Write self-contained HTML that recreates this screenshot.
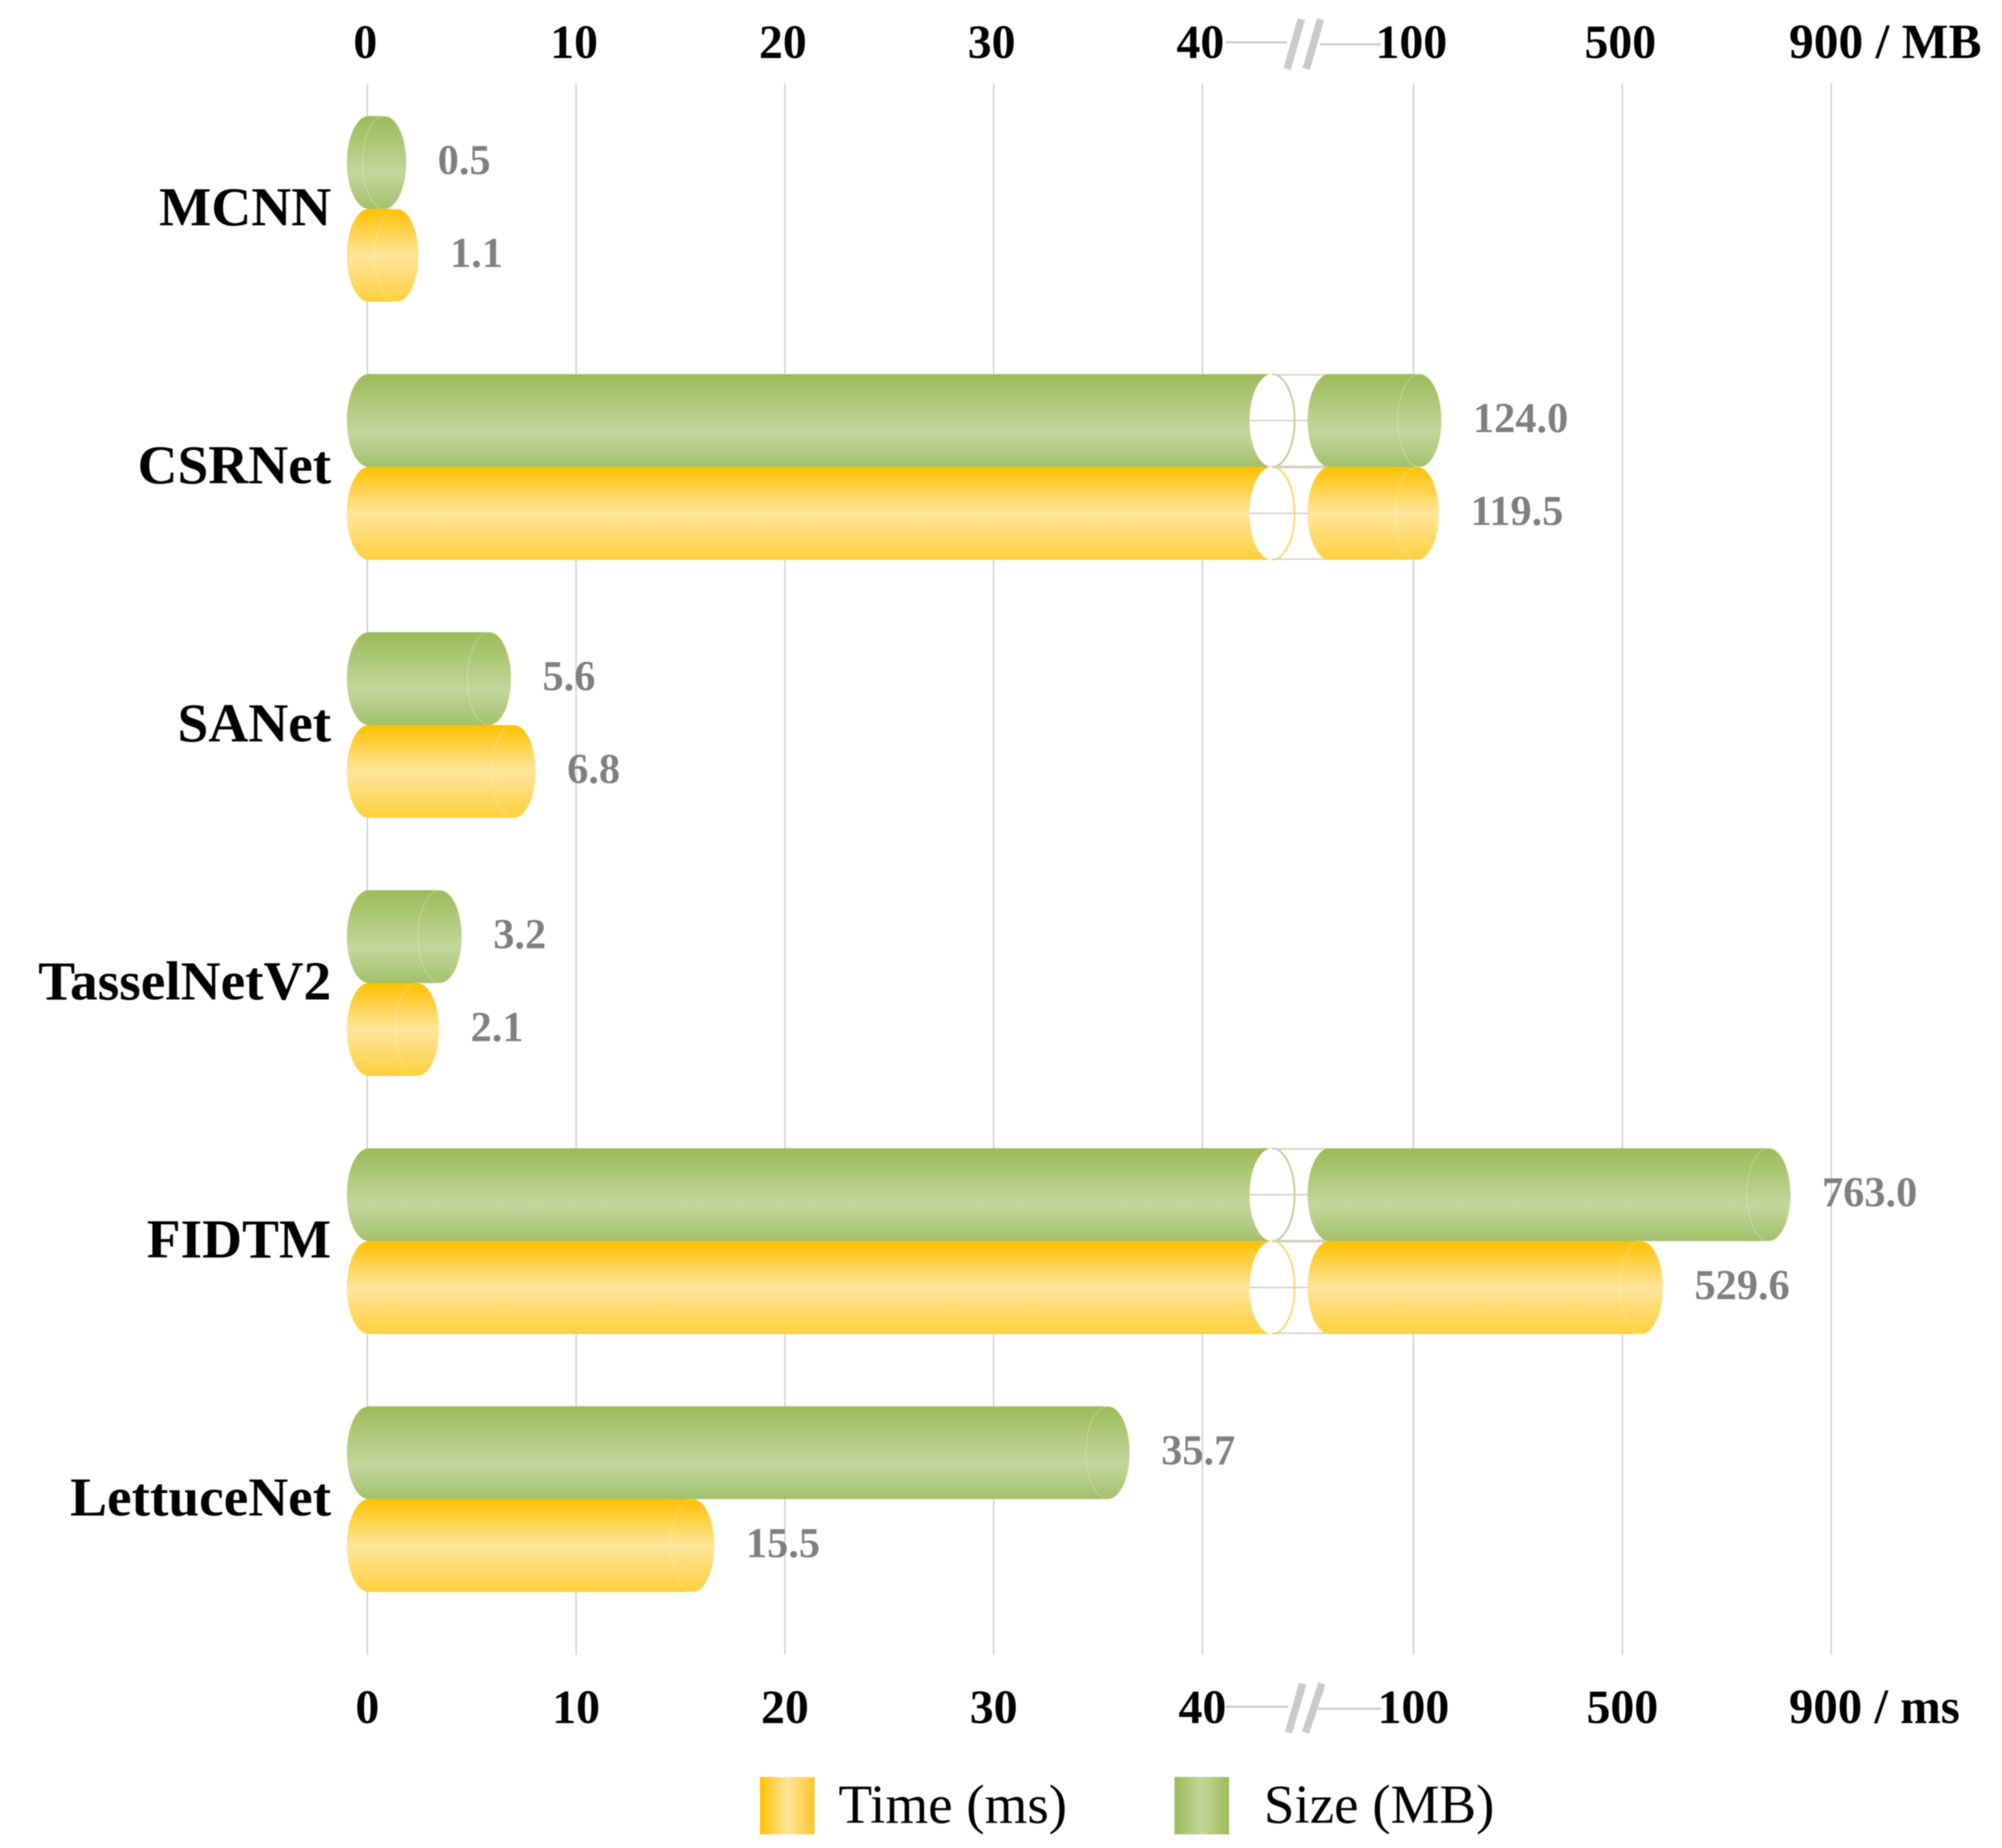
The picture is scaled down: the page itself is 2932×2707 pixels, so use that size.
<!DOCTYPE html>
<html lang="en">
<head>
<meta charset="utf-8">
<title>Model size and inference time</title>
<style>
html,body{margin:0;padding:0;background:#fff;}
svg{display:block;filter:blur(0.8px);}
text{font-family:"Liberation Serif",serif;}
.tick{font-size:70px;font-weight:bold;fill:#000;}
.cat{font-size:81px;font-weight:bold;fill:#000;text-anchor:end;}
.val{font-size:62px;font-weight:bold;fill:#7f7f7f;}
.leg{font-size:80.5px;fill:#000;}
</style>
</head>
<body>
<svg id="chart" xmlns="http://www.w3.org/2000/svg" width="2932" height="2707" viewBox="0 0 2932 2707">
  <defs>
    <linearGradient id="g-size" x1="0" y1="0" x2="0" y2="1">
      <stop offset="0" stop-color="#9bbb59"/>
      <stop offset="0.62" stop-color="#c3d69b"/>
      <stop offset="1" stop-color="#a3c06b"/>
    </linearGradient>
    <linearGradient id="g-time" x1="0" y1="0" x2="0" y2="1">
      <stop offset="0" stop-color="#ffc000"/>
      <stop offset="0.5" stop-color="#fee59b"/>
      <stop offset="1" stop-color="#ffcf3c"/>
    </linearGradient>
    <linearGradient id="g-size-h" x1="0" y1="0" x2="1" y2="0">
      <stop offset="0" stop-color="#9bbb59"/>
      <stop offset="0.5" stop-color="#c3d69b"/>
      <stop offset="1" stop-color="#9bbb59"/>
    </linearGradient>
    <linearGradient id="g-time-h" x1="0" y1="0" x2="1" y2="0">
      <stop offset="0" stop-color="#ffc000"/>
      <stop offset="0.5" stop-color="#fee59b"/>
      <stop offset="1" stop-color="#ffc62a"/>
    </linearGradient>
  </defs>
  <rect width="2932" height="2707" fill="#fff"/>
  <g id="grid"></g>
  <g id="axes"></g>

  <g fill="none" stroke="#cacaca">
    <line x1="1795" y1="62" x2="1885" y2="62" stroke-width="3"/>
    <line x1="1933" y1="65" x2="2022" y2="65" stroke-width="3"/>
    <line x1="1906" y1="28" x2="1885" y2="101" stroke-width="11"/>
    <line x1="1934" y1="28" x2="1913" y2="101" stroke-width="11"/>
  </g>
  <g fill="none" stroke="#cacaca">
    <line x1="1795" y1="2500" x2="1887" y2="2500" stroke-width="3"/>
    <line x1="1930" y1="2503" x2="2023" y2="2503" stroke-width="3"/>
    <line x1="1908" y1="2466" x2="1887" y2="2538" stroke-width="11"/>
    <line x1="1936" y1="2466" x2="1912" y2="2538" stroke-width="11"/>
  </g>

  <g id="bars"></g>

  <g>
    <g>
      <rect x="1113" y="2603" width="80" height="84" fill="url(#g-time-h)"/>
      <text class="leg" x="1228" y="2670">Time (ms)</text>
    </g>
    <g>
      <rect x="1720" y="2603" width="80" height="84" fill="url(#g-size-h)"/>
      <text class="leg" x="1851" y="2670">Size (MB)</text>
    </g>
  </g>
</svg>
<script>
const categories = ["MCNN", "CSRNet", "SANet", "TasselNetV2", "FIDTM", "LettuceNet"];
const sizeValues = [0.5, 124.0, 5.6, 3.2, 763.0, 35.7];
const timeValues = [1.1, 119.5, 6.8, 2.1, 529.6, 15.5];
const tickValues = [0, 10, 20, 30, 40, 100, 500, 900];
const topTickLabels = ["0", "10", "20", "30", "40", "100", "500", "900 / MB"];
const bottomTickLabels = ["0", "10", "20", "30", "40", "100", "500", "900 / ms"];

const NS = "http://www.w3.org/2000/svg";
function make(tag, parent, cls) {
  const el = document.createElementNS(NS, tag);
  if (cls) el.setAttribute("class", cls);
  parent.appendChild(el);
  return el;
}
function xScale(v) {
  if (v <= 40) return 538 + v * (1761 - 538) / 40;
  if (v <= 100) return 1761 + (v - 40) * (2070 - 1761) / 60;
  return 2070 + (v - 100) * (2682 - 2070) / 800;
}
function tipX(v) {
  if (v <= 40) return 580 + 30.1 * v;
  if (v <= 100) return 1784 + (v - 40) * (2092 - 1784) / 60;
  return 2012 + 0.8 * v;
}
const BAND_TOP = 170, BAND_STEP = 378, BAR_H = 136, CAP_RX = 32, BAR_LEFT = 508;
const BREAK_C = 1863, BREAK_RX = 33, RESUME_LEFT = 1915;

function barPath(left, tip, top) {
  const ry = BAR_H / 2, a = left + CAP_RX, b = Math.max(tip - CAP_RX, a), bottom = top + BAR_H;
  return "M" + a + " " + top + "L" + b + " " + top +
    "A" + CAP_RX + " " + ry + " 0 0 1 " + b + " " + bottom +
    "L" + a + " " + bottom +
    "A" + CAP_RX + " " + ry + " 0 0 1 " + a + " " + top + "Z";
}

function drawBar(parent, cat, value, top, grad, edge, seriesName) {
  const tip = tipX(value), ry = BAR_H / 2, mid = top + ry;
  const group = make("g", parent);
  
  

  if (value > 40) {
    const left = make("path", group);
    
    
    left.setAttribute("d", barPath(BAR_LEFT, BREAK_C + CAP_RX, top));
    left.setAttribute("fill", "url(#" + grad + ")");

    const hole = make("ellipse", group);
    
    
    hole.setAttribute("cx", BREAK_C);
    hole.setAttribute("cy", mid);
    hole.setAttribute("rx", BREAK_RX);
    hole.setAttribute("ry", ry);
    hole.setAttribute("fill", "#fff");

    const cover = make("rect", group);
    
    
    cover.setAttribute("x", BREAK_C);
    cover.setAttribute("y", top);
    cover.setAttribute("width", RESUME_LEFT + 10 - BREAK_C);
    cover.setAttribute("height", BAR_H);
    cover.setAttribute("fill", "#fff");

    const rim = make("path", group);
    
    
    rim.setAttribute("d", "M" + BREAK_C + " " + top + "A" + BREAK_RX + " " + ry + " 0 0 1 " + BREAK_C + " " + (top + BAR_H));
    rim.setAttribute("fill", "none");
    rim.setAttribute("stroke", edge);
    rim.setAttribute("stroke-width", "2.5");

    const lineYs = [top + 1, mid, top + BAR_H - 1];
    const lineX1 = [BREAK_C, BREAK_C - BREAK_RX, BREAK_C];
    const lineX2 = [RESUME_LEFT + CAP_RX, RESUME_LEFT, RESUME_LEFT + CAP_RX];
    for (let k = 0; k < 3; k++) {
      const l = make("line", group);
      
      
      l.setAttribute("x1", lineX1[k]);
      l.setAttribute("x2", lineX2[k]);
      l.setAttribute("y1", lineYs[k]);
      l.setAttribute("y2", lineYs[k]);
      l.setAttribute("stroke", "#cfcfc4");
      l.setAttribute("stroke-width", "2");
    }

    const right = make("path", group);
    
    
    right.setAttribute("d", barPath(RESUME_LEFT, tip, top));
    right.setAttribute("fill", "url(#" + grad + ")");
  } else {
    const body = make("path", group);
    
    
    body.setAttribute("d", barPath(BAR_LEFT, tip, top));
    body.setAttribute("fill", "url(#" + grad + ")");
  }

  const cap = make("ellipse", group);
  
  
  cap.setAttribute("cx", tip - CAP_RX);
  cap.setAttribute("cy", mid);
  cap.setAttribute("rx", CAP_RX);
  cap.setAttribute("ry", ry);
  cap.setAttribute("fill", "none");
  cap.setAttribute("stroke", "#ffffff");
  cap.setAttribute("stroke-opacity", "0.2");
  cap.setAttribute("stroke-width", "2");

  const label = make("text", group, "val");
  
  
  label.setAttribute("x", tip + 46);
  label.setAttribute("y", mid + 17);
  label.textContent = value.toFixed(1);
}

const gridG = document.getElementById("grid");
const axesG = document.getElementById("axes");
const barsG = document.getElementById("bars");

tickValues.forEach(function (t, i) {
  const x = xScale(t);

  const line = make("line", gridG);
  
  
  line.setAttribute("x1", x);
  line.setAttribute("x2", x);
  line.setAttribute("y1", 122);
  line.setAttribute("y2", 2424);
  line.setAttribute("stroke", "#cfcfcf");
  line.setAttribute("stroke-width", "2");

  const isLast = i === tickValues.length - 1;
  const topLabel = make("text", axesG, "tick");
  
  
  topLabel.setAttribute("x", isLast ? x - 62 : x - 3);
  topLabel.setAttribute("y", 85);
  topLabel.setAttribute("text-anchor", isLast ? "start" : "middle");
  if (isLast) topLabel.style.fontSize = "72.5px";
  topLabel.textContent = topTickLabels[i];

  const bottomLabel = make("text", axesG, "tick");
  
  
  bottomLabel.setAttribute("x", isLast ? x - 62 : x);
  bottomLabel.setAttribute("y", 2524);
  bottomLabel.setAttribute("text-anchor", isLast ? "start" : "middle");
  if (isLast) bottomLabel.style.fontSize = "71.5px";
  bottomLabel.textContent = bottomTickLabels[i];
});

categories.forEach(function (cat, i) {
  const top = BAND_TOP + i * BAND_STEP;

  const row = make("g", barsG);
  
  

  const name = make("text", row, "cat");
  
  
  name.setAttribute("x", 485);
  name.setAttribute("y", top + BAR_H + 24);
  name.textContent = cat;

  drawBar(row, cat, sizeValues[i], top, "g-size", "#b9cf8e", "size");
  drawBar(row, cat, timeValues[i], top + BAR_H, "g-time", "#ffd766", "time");
});
</script>
</body>
</html>
